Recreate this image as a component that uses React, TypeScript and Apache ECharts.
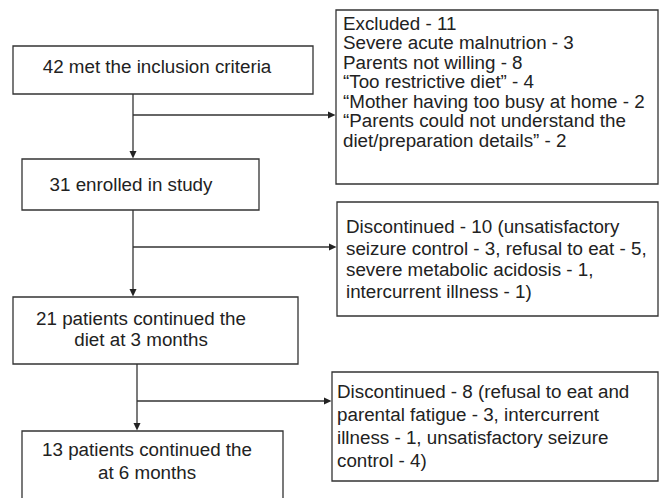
import React, { useEffect, useRef } from "react";
import * as echarts from "echarts";

const mainBoxes = [
  { lines: ["42 met the inclusion criteria"], rect: [13, 46, 300, 48], tx: 157, ty: 66, lh: 20 },
  { lines: ["31 enrolled in study"], rect: [22, 159, 237, 51], tx: 131, ty: 184, lh: 20 },
  { lines: ["21 patients continued the", "diet at 3 months"], rect: [13, 297, 285, 67], tx: 141, ty: 318, lh: 21 },
  { lines: ["13 patients continued the", "at 6 months"], rect: [22, 431, 261, 90], tx: 147, ty: 449, lh: 23 },
];

const sideBoxes = [
  {
    lines: [
      "Excluded - 11",
      "Severe acute malnutrion - 3",
      "Parents not willing - 8",
      "\u201CToo restrictive diet\u201D - 4",
      "\u201CMother having too busy at home - 2",
      "\u201CParents could not understand the",
      "diet/preparation details\u201D - 2",
    ],
    rect: [336, 10, 322, 174], tx: 343, ty: 23, lh: 19.6,
  },
  {
    lines: [
      "Discontinued - 10 (unsatisfactory",
      "seizure control - 3, refusal to eat - 5,",
      "severe metabolic acidosis - 1,",
      "intercurrent illness - 1)",
    ],
    rect: [337, 202, 321, 114], tx: 346, ty: 226.5, lh: 21.7,
  },
  {
    lines: [
      "Discontinued - 8 (refusal to eat and",
      "parental fatigue - 3, intercurrent",
      "illness - 1, unsatisfactory seizure",
      "control - 4)",
    ],
    rect: [332, 372, 326, 109], tx: 337, ty: 391.7, lh: 22.8,
  },
];

// connectors: vertical line x, from y0 to y1 (arrow at y1); branch at by to bx (arrow)
const connectors = [
  { x: 133, y0: 94, y1: 159, by: 115, bx: 336 },
  { x: 133, y0: 210, y1: 297, by: 247, bx: 337 },
  { x: 137, y0: 364, y1: 431, by: 401, bx: 332 },
];

const STROKE = "#333";
const FONT = "18.8px 'Liberation Sans', Arial, sans-serif";

export default function App() {
  const ref = useRef<HTMLDivElement>(null);
  useEffect(() => {
    document.body.style.margin = "0";
    if (!ref.current) return;
    const chart = echarts.init(ref.current, null, { renderer: "svg" });
    const els: any[] = [];
    els.push({ type: "rect", shape: { x: 0, y: 0, width: 659, height: 498 }, style: { fill: "#fff" }, silent: true });

    const boxes = [...mainBoxes, ...sideBoxes];
    boxes.forEach((b) => {
      els.push({
        type: "rect",
        shape: { x: b.rect[0], y: b.rect[1], width: b.rect[2], height: b.rect[3] },
        style: { fill: "#fff", stroke: STROKE, lineWidth: 1.3 },
      });
    });
    mainBoxes.forEach((b) => {
      els.push({
        type: "text",
        x: b.tx,
        y: b.ty - b.lh / 2,
        style: {
          text: b.lines.join("\n"),
          font: FONT,
          fill: "#222",
          align: "center",
          verticalAlign: "top",
          lineHeight: b.lh,
        },
      });
    });
    sideBoxes.forEach((b) => {
      els.push({
        type: "text",
        x: b.tx,
        y: b.ty - b.lh / 2,
        style: {
          text: b.lines.join("\n"),
          font: FONT,
          fill: "#222",
          align: "left",
          verticalAlign: "top",
          lineHeight: b.lh,
        },
      });
    });
    connectors.forEach((c) => {
      els.push({ type: "line", shape: { x1: c.x, y1: c.y0, x2: c.x, y2: c.y1 - 7 }, style: { stroke: STROKE, lineWidth: 1.3 } });
      els.push({ type: "polygon", shape: { points: [[c.x - 3.5, c.y1 - 8], [c.x + 3.5, c.y1 - 8], [c.x, c.y1 - 0.5]] }, style: { fill: "#222" } });
      els.push({ type: "line", shape: { x1: c.x, y1: c.by, x2: c.bx - 7, y2: c.by }, style: { stroke: STROKE, lineWidth: 1.3 } });
      els.push({ type: "polygon", shape: { points: [[c.bx - 8, c.by - 3.5], [c.bx - 8, c.by + 3.5], [c.bx - 0.5, c.by]] }, style: { fill: "#222" } });
    });

    chart.setOption({ animation: false, graphic: { elements: els } });
    return () => chart.dispose();
  }, []);
  return <div ref={ref} style={{ width: 659, height: 498 }} />;
}
